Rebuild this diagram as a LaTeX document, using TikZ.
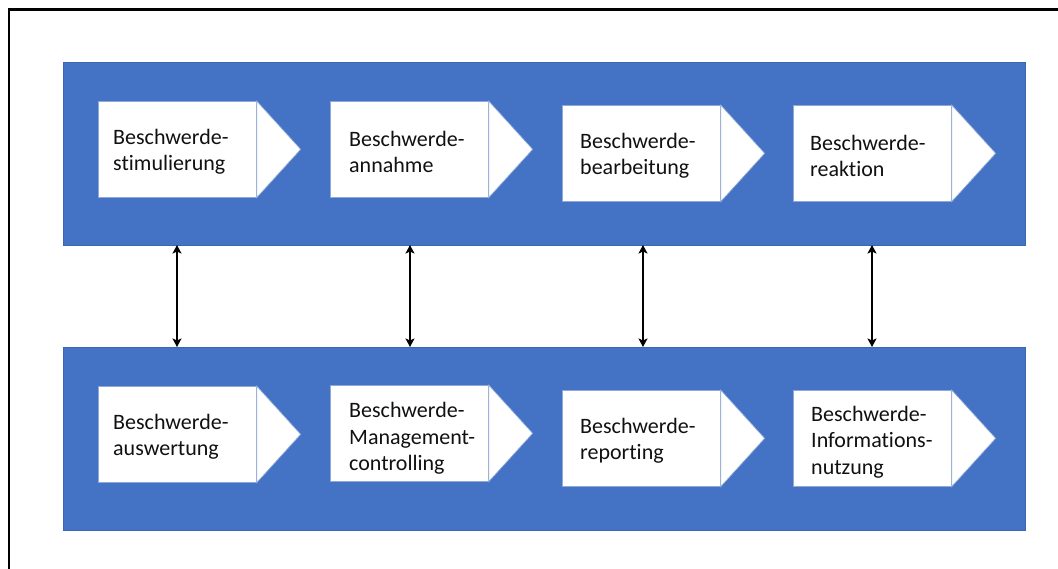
\documentclass[tikz,border=0pt]{standalone}
\usepackage{fontspec}
\setmainfont{Carlito}[Ligatures=NoCommon]
\usetikzlibrary{arrows.meta}
\definecolor{bandblue}{HTML}{4472C4}
\definecolor{bandedge}{HTML}{3B66B5}
\definecolor{boxedge}{HTML}{8FA8D6}
\definecolor{txt}{HTML}{111111}
\tikzset{
  bandbox/.style={fill=bandblue, draw=bandedge, line width=0.8pt, anchor=north west, inner sep=0pt},
  chevbox/.style={fill=white, draw=boxedge, line width=0.7pt, anchor=north west, inner sep=0pt,
    minimum width=158pt, minimum height=96pt},
  chevtext/.style={anchor=west, inner sep=0pt, align=left, text=txt,
    font=\fontsize{22}{26.5}\selectfont},
  chevtip/.style={fill=white, draw=boxedge, line width=0.7pt},
  link/.style={{Stealth[length=8.5pt,width=9pt,inset=2pt]}-{Stealth[length=8.5pt,width=9pt,inset=2pt]}, line width=2.2pt, black},
  frame/.style={draw=black, line width=2.2pt}
}
% name, x, y, text inset, text drop, text
\newcommand\chevron[6]{%
  \node[chevbox] (#1) at (#2,#3) {};
  \draw[chevtip] (#1.north east) -- ([xshift=44pt]#1.east) -- (#1.south east) -- cycle;
  \node[chevtext] (#1-t) at ([xshift=#4pt,yshift=-#5pt]#1.west) {#6};
}
\begin{document}
\begin{tikzpicture}[x=1pt,y=-1pt]
\useasboundingbox (0,0) rectangle (1058,569);
\fill[white] (0,0) rectangle (1058,569);
\draw[frame] (9,569) -- (9,9.5) -- (1058,9.5);

\node[bandbox, minimum width=962pt, minimum height=183pt] (upper) at (63,62) {};
\node[bandbox, minimum width=962pt, minimum height=183pt] (lower) at (63,347) {};

\chevron{t1}{98}{101}{15}{2.5}{Beschwerde-\\stimulierung}
\chevron{t2}{330}{101}{19}{2.5}{Beschwerde-\\annahme}
\chevron{t3}{562}{105}{18}{2.5}{Beschwerde-\\bearbeitung}
\chevron{t4}{793}{105}{17}{2.5}{Beschwerde-\\reaktion}

\chevron{b1}{98}{386}{15}{2.5}{Beschwerde-\\auswertung}
\chevron{b2}{330}{385}{19}{5}{Beschwerde-\\Management-\\controlling}
\chevron{b3}{562}{390}{18}{2.5}{Beschwerde-\\reporting}
\chevron{b4}{793}{390}{18}{3.5}{Beschwerde-\\Informations-\\nutzung}

\coordinate (a1t) at (177,245); \coordinate (a1b) at (177,347);
\coordinate (a2t) at (410,245); \coordinate (a2b) at (410,347);
\coordinate (a3t) at (643,245); \coordinate (a3b) at (643,347);
\coordinate (a4t) at (872,245); \coordinate (a4b) at (872,347);
\draw[link] (a1t) -- (a1b);
\draw[link] (a2t) -- (a2b);
\draw[link] (a3t) -- (a3b);
\draw[link] (a4t) -- (a4b);
\end{tikzpicture}
\end{document}
